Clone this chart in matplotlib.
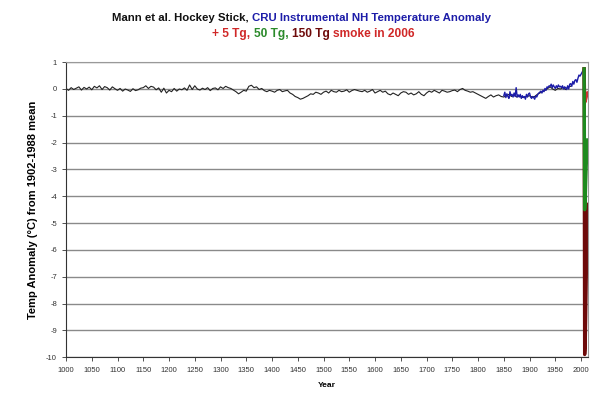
import numpy as np
import matplotlib.pyplot as plt

plt.rcParams['font.family'] = ['Liberation Sans', 'DejaVu Sans']
plt.rcParams['axes.unicode_minus'] = False

# Mann et al. reconstruction, 5-year steps from 1000
mann = [0.02, -0.05, 0.05, -0.02, 0.03, 0.08, -0.04, 0.06, 0.0, 0.07,
        -0.03, 0.10, 0.04, 0.12, -0.02, 0.09, 0.05, -0.04, 0.08, 0.01,
        -0.05, 0.02, -0.08, 0.0, -0.04, -0.09, 0.01, -0.06, -0.03, 0.03,
        0.05, 0.12, 0.02, 0.10, 0.07, -0.03, 0.04, -0.12, 0.03, -0.15,
        -0.05, -0.10, 0.02, -0.08, 0.0, -0.03, 0.04, -0.05, 0.15, -0.02,
        0.12, 0.0, -0.04, 0.03, -0.02, 0.05, -0.06, 0.02, 0.04, -0.03,
        0.08, 0.02, 0.10, 0.05, 0.02, -0.04, -0.10, -0.18, -0.12, -0.05,
        -0.08, 0.10, 0.14, 0.05, 0.08, -0.02, 0.02, -0.06, -0.10, -0.05,
        -0.08, -0.12, -0.05, -0.02, -0.10, -0.07, -0.05, -0.15, -0.20, -0.28,
        -0.32, -0.38, -0.35, -0.30, -0.25, -0.18, -0.20, -0.12, -0.15, -0.20,
        -0.12, -0.08, -0.15, -0.05, -0.10, -0.12, -0.05, -0.10, -0.08, -0.03,
        -0.12, -0.06, -0.02, -0.05, -0.08, -0.10, -0.05, -0.12, -0.08, -0.02,
        -0.15, -0.10, -0.05, -0.12, -0.08, -0.18, -0.22, -0.15, -0.20, -0.25,
        -0.15, -0.10, -0.12, -0.20, -0.15, -0.22, -0.18, -0.10, -0.20, -0.25,
        -0.15, -0.08, -0.12, -0.05, -0.10, -0.15, -0.05, -0.08, -0.12, -0.10,
        -0.06, -0.04, -0.10, -0.02, 0.02, -0.05, -0.08, -0.12, -0.10, -0.15,
        -0.20, -0.25, -0.30, -0.35, -0.28, -0.22, -0.30, -0.25, -0.22, -0.28,
        -0.30, -0.25, -0.20, -0.28, -0.22, -0.30, -0.25, -0.32, -0.30, -0.28,
        -0.25, -0.30, -0.28, -0.20, -0.15, -0.10, -0.05, 0.02, 0.08, 0.0,
        -0.05, 0.02, 0.0, 0.05, -0.02, 0.08, 0.10]
mann_years = 1000 + 5 * np.arange(len(mann))

# CRU instrumental NH, 2-year steps from 1850
cru = [-0.25, -0.12, -0.32, -0.18, -0.28, -0.35, -0.10, -0.25, -0.20, -0.30,
       -0.15, -0.28, 0.05, -0.30, -0.22, -0.30, -0.20, -0.35, -0.25, -0.32,
       -0.28, -0.38, -0.20, -0.30, -0.18, -0.15, -0.30, -0.35, -0.28, -0.32,
       -0.38, -0.25, -0.30, -0.20, -0.15, -0.12, -0.08, -0.15, -0.05, -0.10,
       0.02, -0.05, 0.08, 0.05, 0.12, 0.10, 0.18, 0.05, 0.15, 0.08,
       0.02, 0.12, 0.05, 0.15, 0.08, 0.10, 0.05, 0.12, 0.0, 0.08,
       0.05, -0.02, 0.12, 0.0, 0.18, 0.20, 0.10, 0.28, 0.18, 0.32,
       0.35, 0.25, 0.40, 0.52, 0.48, 0.55, 0.62, 0.70, 0.75]
cru_years = 1850 + 2 * np.arange(len(cru))

# smoke scenarios after 2006
smoke_years = [2006, 2007, 2008, 2009, 2010, 2011, 2012, 2013]
smoke_5 = [0.75, -0.5, -0.45, -0.38, -0.3, -0.25, -0.2, -0.15]
smoke_50 = [0.75, -4.5, -4.2, -3.5, -2.9, -2.4, -2.1, -1.9]
smoke_150 = [0.75, -9.9, -9.6, -8.5, -7.2, -6.0, -5.0, -4.3]

fig = plt.figure(figsize=(6, 3.96), dpi=100)
ax = fig.add_axes([0.11, 0.098, 0.87, 0.745])

ax.plot(mann_years, mann, color='#222222', lw=0.8)
ax.plot(cru_years, cru, color='#1c1ca8', lw=1.0)
ax.plot(smoke_years, smoke_5, color='#d03030', lw=2.4)
ax.plot(smoke_years, smoke_150, color='#6e0a0a', lw=2.4)
ax.plot(smoke_years, smoke_50, color='#1e8a1e', lw=2.4)

ax.set_xlim(1000, 2013.5)
ax.set_ylim(-10, 1)
ax.set_xticks(range(1000, 2001, 50))
ax.set_yticks(range(-10, 2))
ax.yaxis.grid(True, color='#8a8a8a', lw=1)
ax.set_axisbelow(True)
ax.tick_params(labelsize=5.5, colors='#333333', length=3, width=0.6)
ax.tick_params(axis='x', direction='out', pad=4)
ax.spines['top'].set_color('#999999')
ax.spines['right'].set_color('#999999')
for s in ['left', 'bottom']:
    ax.spines[s].set_color('#333333')
    ax.spines[s].set_linewidth(0.8)

ax.set_xlabel('Year', fontsize=6, fontweight='bold', labelpad=6)
ax.set_ylabel('Temp Anomaly (°C) from 1902-1988 mean', fontsize=8,
              fontweight='bold', labelpad=6)


def color_line(parts, y, size, center=0.508):
    renderer = fig.canvas.get_renderer()
    texts = [fig.text(0, y, s, color=c, fontsize=size, fontweight='bold',
                      ha='left', va='baseline') for s, c in parts]
    widths = [t.get_window_extent(renderer).width for t in texts]
    x = center * fig.bbox.width - sum(widths) / 2
    for t, w in zip(texts, widths):
        t.set_x(x / fig.bbox.width)
        x += w


color_line([('Mann et al. Hockey Stick, ', '#111111'),
            ('CRU Instrumental NH Temperature Anomaly', '#1c1ca8')],
           1 - 21 / 396, 8.2, center=0.503)
color_line([('+ 5 Tg, ', '#d02828'), ('50 Tg, ', '#2a8a2a'),
            ('150 Tg ', '#6e0a0a'), ('smoke in 2006', '#d02828')],
           1 - 37 / 396, 8.6, center=0.522)

fig.savefig('out.png', dpi=100)
